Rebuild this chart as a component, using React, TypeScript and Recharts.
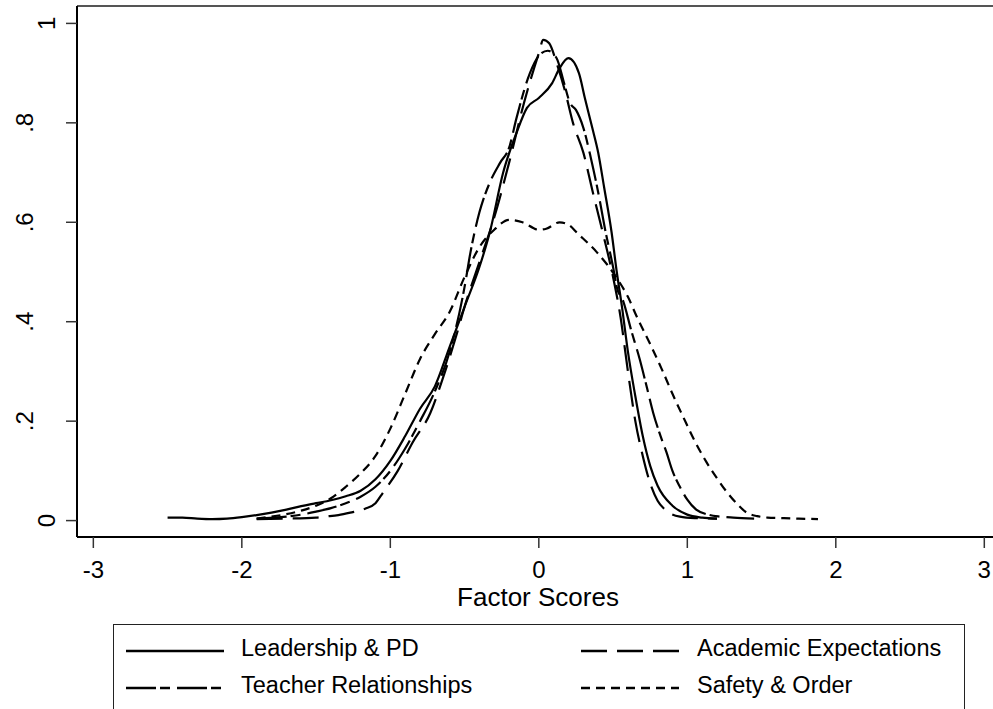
import React from 'react';
import { LineChart, Line, XAxis, YAxis, ReferenceLine, Label } from 'recharts';

// kernel density estimates: [factor score, density]
const leadershipPD: number[][] = [
  [-2.5, 0.006], [-2.4, 0.006], [-2.3, 0.004], [-2.2, 0.003], [-2.1, 0.004], [-2.0, 0.007],
  [-1.9, 0.011], [-1.8, 0.016], [-1.7, 0.022], [-1.6, 0.029], [-1.5, 0.035], [-1.4, 0.041],
  [-1.3, 0.049], [-1.2, 0.06], [-1.1, 0.083], [-1.0, 0.12], [-0.9, 0.17], [-0.8, 0.225],
  [-0.7, 0.27], [-0.6, 0.35], [-0.5, 0.43], [-0.4, 0.51], [-0.33, 0.58], [-0.24, 0.7],
  [-0.15, 0.78], [-0.08, 0.83], [0.0, 0.85], [0.09, 0.88], [0.14, 0.91], [0.2, 0.93],
  [0.27, 0.9], [0.31, 0.85], [0.36, 0.79], [0.4, 0.74], [0.44, 0.67], [0.49, 0.58],
  [0.525, 0.5], [0.56, 0.43], [0.6, 0.34], [0.65, 0.25], [0.7, 0.17], [0.75, 0.11],
  [0.8, 0.07], [0.9, 0.03], [1.0, 0.012], [1.1, 0.006], [1.2, 0.004],
];

const academicExpectations: number[][] = [
  [-1.9, 0.003], [-1.7, 0.004], [-1.5, 0.006], [-1.45, 0.008], [-1.35, 0.011], [-1.27, 0.016],
  [-1.17, 0.024], [-1.1, 0.035], [-1.05, 0.056], [-0.95, 0.1], [-0.85, 0.157], [-0.73, 0.217],
  [-0.65, 0.283], [-0.55, 0.378], [-0.5, 0.43], [-0.4, 0.52], [-0.3, 0.61], [-0.2, 0.72],
  [-0.1, 0.84], [0.0, 0.94], [0.03, 0.967], [0.07, 0.96], [0.12, 0.92], [0.18, 0.86],
  [0.23, 0.8], [0.3, 0.74], [0.36, 0.665], [0.43, 0.58], [0.5, 0.49], [0.55, 0.41],
  [0.6, 0.3], [0.65, 0.2], [0.7, 0.13], [0.75, 0.075], [0.8, 0.04], [0.85, 0.022],
  [0.95, 0.008], [1.05, 0.005], [1.2, 0.004],
];

const teacherRelationships: number[][] = [
  [-1.9, 0.004], [-1.7, 0.008], [-1.6, 0.012], [-1.5, 0.018], [-1.4, 0.025], [-1.3, 0.035],
  [-1.2, 0.048], [-1.1, 0.068], [-1.0, 0.1], [-0.9, 0.145], [-0.8, 0.2], [-0.7, 0.26],
  [-0.6, 0.34], [-0.5, 0.47], [-0.46, 0.54], [-0.4, 0.62], [-0.33, 0.68], [-0.26, 0.72],
  [-0.2, 0.75], [-0.15, 0.81], [-0.06, 0.9], [0.0, 0.935], [0.06, 0.945], [0.12, 0.93],
  [0.17, 0.88], [0.21, 0.84], [0.25, 0.826], [0.3, 0.79], [0.35, 0.73], [0.4, 0.66],
  [0.45, 0.58], [0.5, 0.51], [0.525, 0.47], [0.57, 0.44], [0.62, 0.385], [0.68, 0.324],
  [0.73, 0.265], [0.77, 0.217], [0.82, 0.17], [0.86, 0.137], [0.9, 0.1], [0.95, 0.068],
  [1.0, 0.042], [1.06, 0.022], [1.14, 0.012], [1.22, 0.008], [1.31, 0.006], [1.45, 0.004],
];

const safetyOrder: number[][] = [
  [-1.9, 0.004], [-1.8, 0.008], [-1.7, 0.013], [-1.6, 0.02], [-1.5, 0.03], [-1.4, 0.045],
  [-1.3, 0.068], [-1.2, 0.095], [-1.1, 0.13], [-1.0, 0.185], [-0.9, 0.255], [-0.8, 0.325],
  [-0.7, 0.375], [-0.6, 0.42], [-0.5, 0.49], [-0.4, 0.55], [-0.3, 0.585], [-0.2, 0.605],
  [-0.11, 0.6], [0.0, 0.585], [0.05, 0.587], [0.14, 0.6], [0.2, 0.595], [0.26, 0.578],
  [0.39, 0.54], [0.46, 0.515], [0.52, 0.49], [0.6, 0.45], [0.66, 0.41], [0.75, 0.355],
  [0.835, 0.3], [0.9, 0.255], [0.97, 0.21], [1.05, 0.16], [1.13, 0.117], [1.2, 0.085],
  [1.27, 0.056], [1.34, 0.032], [1.4, 0.016], [1.47, 0.009], [1.54, 0.006], [1.65, 0.005],
  [1.75, 0.004], [1.88, 0.003],
];

const xTicks = [-3, -2, -1, 0, 1, 2, 3];
const yTicks = [0, 0.2, 0.4, 0.6, 0.8, 1];
const yTickLabels = ['0', '.2', '.4', '.6', '.8', '1'];
const xDomain = [-3.11, 3.2];
const yDomain = [-0.033, 1.035];

const FONT = '"Liberation Sans", Arial, Helvetica, sans-serif';

const series = [
  { name: 'Leadership & PD', data: leadershipPD, dash: undefined },
  { name: 'Academic Expectations', data: academicExpectations, dash: '26 10' },
  { name: 'Teacher Relationships', data: teacherRelationships, dash: '30 4 10 7' },
  { name: 'Safety & Order', data: safetyOrder, dash: '9 6' },
];

const toPoints = (arr: number[][]) => arr.map(([x, y]) => ({ x, y }));

const XTick = ({ x, payload }: any) => (
  <text x={x} y={578} textAnchor="middle" fontSize={24} fontFamily={FONT} fill="#000">
    {String(payload.value)}
  </text>
);

const YTick = ({ y, payload }: any) => {
  const i = yTicks.indexOf(payload.value);
  const label = yTickLabels[i] ?? String(payload.value);
  const bx = label.startsWith('.') ? 33 : 55;
  return (
    <text
      x={bx}
      y={y}
      transform={`rotate(-90 ${bx} ${y})`}
      textAnchor="middle"
      fontSize={24}
      fontFamily={FONT}
      fill="#000"
    >
      {label}
    </text>
  );
};

const LegendKey: React.FC<{ dash?: string }> = ({ dash }) => (
  <svg width={98} height={6} style={{ display: 'block' }}>
    <line x1={0} y1={3} x2={98} y2={3} stroke="#000" strokeWidth={2.5} strokeDasharray={dash} />
  </svg>
);

const App: React.FC = () => {
  // legend order: row 1 Leadership / Academic, row 2 Teacher / Safety
  const keyPos = [
    { left: 12, top: 23, textLeft: 127 },
    { left: 467, top: 23, textLeft: 583 },
    { left: 12, top: 60, textLeft: 127 },
    { left: 467, top: 60, textLeft: 583 },
  ];
  return (
    <div
      style={{
        position: 'absolute',
        left: 0,
        top: 0,
        width: 993,
        height: 709,
        overflow: 'hidden',
        background: '#fff',
      }}
    >
      <LineChart width={1014} height={709} margin={{ top: 6, right: 0, bottom: 0, left: 0 }}>
        <XAxis
          dataKey="x"
          type="number"
          domain={xDomain}
          ticks={xTicks}
          allowDataOverflow
          height={172}
          tickSize={11}
          tick={<XTick />}
          axisLine={{ stroke: '#000', strokeWidth: 2 }}
          tickLine={{ stroke: '#333', strokeWidth: 1.5 }}
        >
          <Label
            content={() => (
              <text x={538} y={606} textAnchor="middle" fontSize={26} fontFamily={FONT} fill="#000">
                Factor Scores
              </text>
            )}
          />
        </XAxis>
        <YAxis
          type="number"
          domain={yDomain}
          ticks={yTicks}
          allowDataOverflow
          width={77}
          tickSize={11}
          tick={<YTick />}
          axisLine={{ stroke: '#000', strokeWidth: 2 }}
          tickLine={{ stroke: '#333', strokeWidth: 1.5 }}
        />
        <ReferenceLine y={yDomain[1]} stroke="#555" strokeWidth={2} />
        {series.map((s) => (
          <Line
            key={s.name}
            name={s.name}
            data={toPoints(s.data)}
            dataKey="y"
            type="monotone"
            stroke="#000"
            strokeWidth={2.2}
            strokeDasharray={s.dash}
            dot={false}
            activeDot={false}
            isAnimationActive={false}
          />
        ))}
      </LineChart>
      <div
        style={{
          position: 'absolute',
          left: 113,
          top: 624,
          width: 850,
          height: 120,
          border: '1.5px solid #222',
          background: '#fff',
          fontFamily: FONT,
          fontSize: 23.5,
          color: '#000',
        }}
      >
        {series.map((s, i) => (
          <React.Fragment key={s.name}>
            <div style={{ position: 'absolute', left: keyPos[i].left, top: keyPos[i].top }}>
              <LegendKey dash={s.dash} />
            </div>
            <div
              style={{
                position: 'absolute',
                left: keyPos[i].textLeft,
                top: keyPos[i].top - 14,
                lineHeight: '28px',
                whiteSpace: 'nowrap',
              }}
            >
              {s.name}
            </div>
          </React.Fragment>
        ))}
      </div>
    </div>
  );
};

export default App;
